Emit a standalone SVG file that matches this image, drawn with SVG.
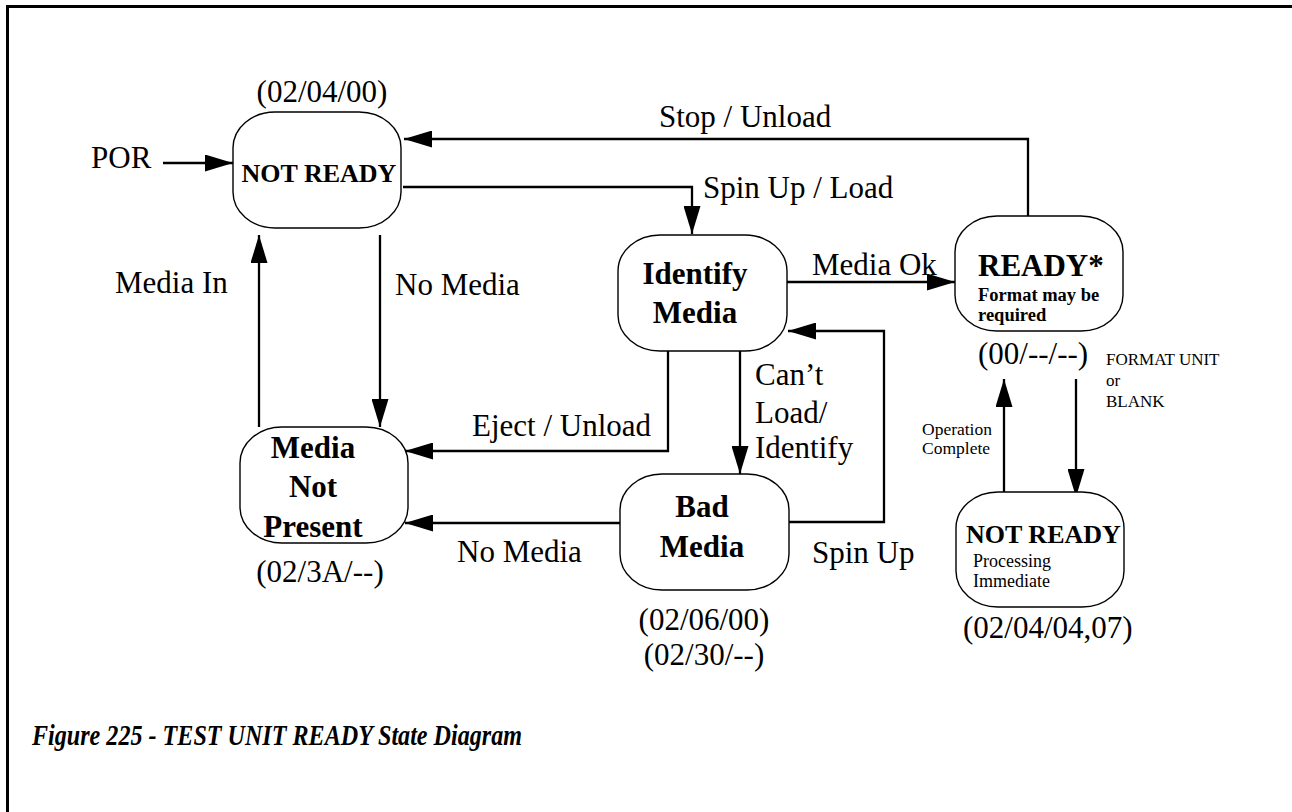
<svg xmlns="http://www.w3.org/2000/svg" width="1292" height="812" viewBox="0 0 1292 812">
<style>
.t{font-family:"Liberation Serif","Times New Roman",serif;font-size:31px;fill:#000}
.b{font-weight:bold}
.c{text-anchor:middle}
.s{font-size:17.5px}
.box{fill:#fff;stroke:#000;stroke-width:1.4}
.ln{fill:none;stroke:#000;stroke-width:2.3}
</style>
<defs>
<marker id="ah" markerUnits="userSpaceOnUse" markerWidth="28" markerHeight="17" refX="28" refY="8.5" orient="auto">
<path d="M0,0 L28,8.5 L0,17 z" fill="#000"/>
</marker>
</defs>
<rect width="1292" height="812" fill="#fff"/>
<path d="M7.5 812 V6.5 H1292" fill="none" stroke="#000" stroke-width="3"/>

<g id="connectors">
<path class="ln" d="M163 163 H233" marker-end="url(#ah)"/>
<path class="ln" d="M1028 216 V139 H404" marker-end="url(#ah)"/>
<path class="ln" d="M403 187 H692 V234" marker-end="url(#ah)"/>
<path class="ln" d="M787 282 H955" marker-end="url(#ah)"/>
<path class="ln" d="M788 522 H884 V331 H788" marker-end="url(#ah)"/>
<path class="ln" d="M668 351 V451 H405" marker-end="url(#ah)"/>
<path class="ln" d="M740 351 V474" marker-end="url(#ah)"/>
<path class="ln" d="M620 523 H405" marker-end="url(#ah)"/>
<path class="ln" d="M259 427 V235" marker-end="url(#ah)"/>
<path class="ln" d="M380 235 V427" marker-end="url(#ah)"/>
<path class="ln" d="M1076 379 V497" marker-end="url(#ah)"/>
<path class="ln" d="M1004 499 V379" marker-end="url(#ah)"/>
</g>

<g id="labels">
<text class="t" x="91" y="168">POR</text>
<text class="t" x="659" y="127">Stop / Unload</text>
<text class="t" x="703" y="198">Spin Up / Load</text>
<text class="t" x="812" y="275">Media Ok</text>
<text class="t" x="115" y="293">Media In</text>
<text class="t" x="395" y="295">No Media</text>
<text class="t" x="472" y="436">Eject / Unload</text>
<text class="t" x="755" y="385">Can’t</text>
<text class="t" x="755" y="423">Load/</text>
<text class="t" x="755" y="458">Identify</text>
<text class="t" x="457" y="562">No Media</text>
<text class="t" x="812" y="563">Spin Up</text>
<text class="t" style="font-size:17px" x="1106" y="365">FORMAT UNIT</text>
<text class="t" style="font-size:17px" x="1106" y="386">or</text>
<text class="t" style="font-size:17px" x="1106" y="407">BLANK</text>
<text class="t s" x="922" y="435">Operation</text>
<text class="t s" x="922" y="454">Complete</text>
</g>

<g id="node-not-ready">
<rect class="box" x="233" y="112" width="168" height="116" rx="42" ry="36"/>
<text class="t c" x="322" y="102">(02/04/00)</text>
<text class="t b c" style="font-size:26px" x="319" y="182">NOT READY</text>
</g>

<g id="node-identify-media">
<rect class="box" x="618" y="235" width="169" height="116" rx="42" ry="36"/>
<text class="t b c" x="695" y="284">Identify</text>
<text class="t b c" x="695" y="323">Media</text>
</g>

<g id="node-ready">
<rect class="box" x="955" y="216" width="168" height="115" rx="42" ry="36"/>
<text class="t b" x="978" y="276">READY*</text>
<text class="t b" style="font-size:18.5px" x="978" y="301">Format may be</text>
<text class="t b" style="font-size:18.5px" x="978" y="321">required</text>
<text class="t" x="978" y="364">(00/--/--)</text>
</g>

<g id="node-media-not-present">
<rect class="box" x="240" y="427" width="168" height="116" rx="42" ry="36"/>
<text class="t b c" x="313" y="458">Media</text>
<text class="t b c" x="313" y="497">Not</text>
<text class="t b c" x="313" y="537">Present</text>
<text class="t c" x="320" y="582">(02/3A/--)</text>
</g>

<g id="node-bad-media">
<rect class="box" x="620" y="474" width="169" height="116" rx="42" ry="36"/>
<text class="t b c" x="702" y="517">Bad</text>
<text class="t b c" x="702" y="557">Media</text>
<text class="t c" x="704" y="630">(02/06/00)</text>
<text class="t c" x="704" y="665">(02/30/--)</text>
</g>

<g id="node-not-ready-processing">
<rect class="box" x="956" y="492" width="168" height="115" rx="42" ry="36"/>
<text class="t b" style="font-size:26px" x="966" y="543">NOT READY</text>
<text class="t" style="font-size:18px" x="973" y="567">Processing</text>
<text class="t" style="font-size:18px" x="973" y="587">Immediate</text>
<text class="t" x="963" y="638">(02/04/04,07)</text>
</g>

<text class="t b" style="font-style:italic;font-size:29px" x="32" y="745" textLength="490" lengthAdjust="spacingAndGlyphs">Figure 225 - TEST UNIT READY State Diagram</text>
</svg>
